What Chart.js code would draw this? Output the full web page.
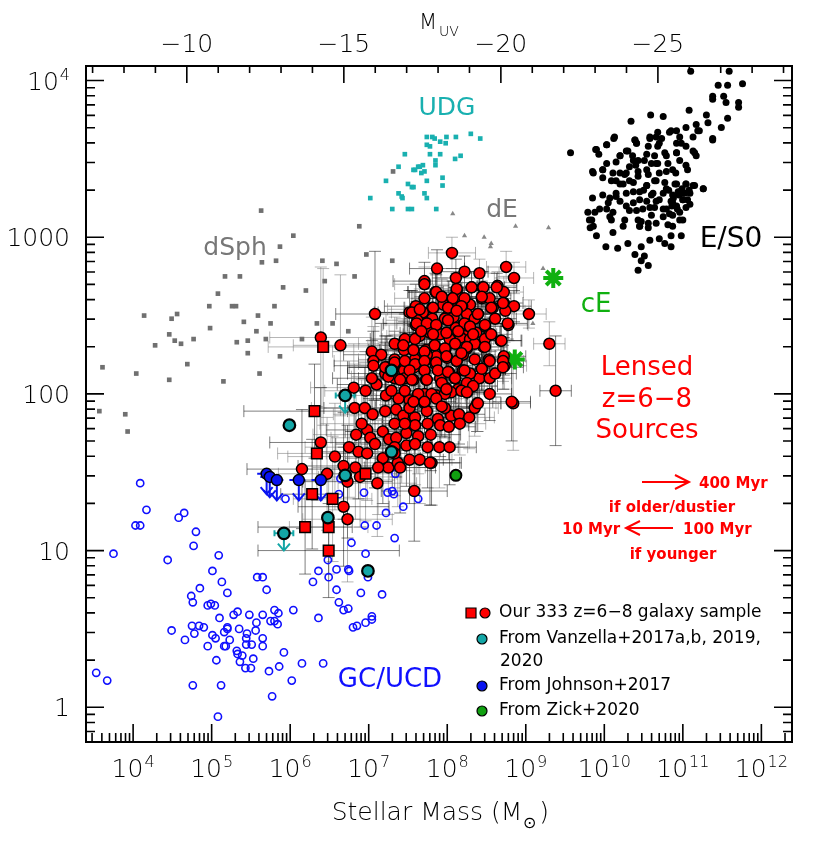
<!DOCTYPE html>
<html>
<head>
<meta charset="utf-8">
<script src="https://cdn.jsdelivr.net/npm/chart.js@4.4.0/dist/chart.umd.min.js"></script>
<style>
  html, body { margin: 0; padding: 0; background: #fff; }
  #wrap { width: 830px; height: 847px; }
</style>
</head>
<body>
<div id="wrap"><canvas id="chart" width="830" height="847"></canvas></div>
<script>
// all values are log10(M*/Msun), log10(Re/pc)

// E/S0 galaxies
const esoLog = [
  [11.10,4.06],[11.59,4.06],[11.45,3.97],[11.57,3.97],[11.76,3.98],[11.38,3.90],[11.52,3.90],[11.38,3.88],
  [11.55,3.86],[11.71,3.86],[11.71,3.83],[11.08,3.81],[11.30,3.78],[10.59,3.78],[10.75,3.77],[11.57,3.76],
  [10.34,3.74],[11.32,3.73],[11.17,3.72],[11.49,3.70],[11.04,3.70],[11.21,3.68],[10.85,3.68],[10.92,3.68],
  [10.66,3.64],[10.58,3.63],[10.12,3.63],[10.39,3.62],[10.73,3.63],[11.38,3.62],[11.13,3.64],[10.03,3.59],
  [10.41,3.60],[10.98,3.60],[10.68,3.58],[9.89,3.56],[9.57,3.54],[10.30,3.55],[9.93,3.53],[10.20,3.52],
  [10.54,3.53],[11.13,3.55],[11.17,3.52],[10.79,3.52],[10.92,3.54],[10.43,3.49],[10.15,3.48],[10.68,3.47],
  [11.04,3.46],[10.03,3.47],[10.32,3.45],[9.98,3.43],[9.85,3.42],[10.54,3.43],[10.79,3.42],[10.91,3.41],
  [10.20,3.41],[10.43,3.39],[10.09,3.36],[10.32,3.36],[10.66,3.36],[10.20,3.34],[10.54,3.33],[11.04,3.34],
  [11.13,3.33],[11.26,3.31],[10.79,3.31],[10.94,3.29],[10.37,3.29],[9.98,3.27],[10.15,3.26],[10.45,3.24],
  [9.85,3.25],[11.00,3.24],[10.66,3.23],[10.87,3.22],[10.05,3.22],[10.28,3.20],[10.58,3.19],[9.94,3.18],
  [10.75,3.18],[11.09,3.21],[10.96,3.16],[9.79,3.16],[10.11,3.16],[10.41,3.17],[10.83,3.15],[9.84,3.11],
  [10.07,3.13],[10.47,3.10],[10.66,3.09],[11.00,3.11],[10.45,3.07],[9.82,3.06],[10.56,3.06],[10.87,3.07],
  [10.11,3.03],[9.90,3.01],[10.85,3.01],[10.98,3.01],[10.70,2.99],[10.58,2.98],[10.85,2.94],[10.30,2.96],
  [10.77,2.96],[10.02,2.94],[10.17,2.93],[10.47,2.94],[10.39,2.89],[10.51,2.88],[10.47,2.85],[10.56,2.82],
  [10.43,2.79],
  [11.19,3.68],[11.38,3.63],[10.13,3.64],[10.03,3.59],[9.90,3.56],[10.39,3.62],[10.41,3.60],[10.58,3.64],
  [10.68,3.67],[10.83,3.67],[10.96,3.64],[10.92,3.60],[10.70,3.60],[10.56,3.58],[11.04,3.58],[11.15,3.54],
  [10.92,3.54],[10.77,3.54],[10.64,3.52],[10.28,3.55],[10.20,3.52],[10.37,3.49],[10.51,3.49],[10.66,3.47],
  [10.81,3.47],[10.96,3.49],[11.06,3.43],[10.87,3.43],[10.70,3.41],[10.56,3.40],[10.43,3.42],[10.28,3.41],
  [10.11,3.41],[9.98,3.43],[9.86,3.41],[9.98,3.38],[10.15,3.36],[10.24,3.34],[10.37,3.35],[10.54,3.33],
  [10.64,3.36],[10.77,3.35],[10.92,3.34],[11.04,3.34],[11.15,3.33],[11.26,3.31],[10.96,3.29],[11.09,3.28],
  [10.87,3.27],[10.75,3.28],[10.60,3.27],[10.45,3.29],[10.28,3.28],[10.15,3.28],[10.07,3.25],[10.20,3.23],
  [10.37,3.22],[10.54,3.23],[10.70,3.24],[10.85,3.23],[11.00,3.24],[10.92,3.20],[11.04,3.19],[10.79,3.18],
  [10.64,3.19],[10.49,3.18],[10.32,3.17],[10.03,3.18],[9.88,3.16],[9.81,3.11],[10.09,3.11],[10.26,3.11],
  [10.43,3.11],[10.60,3.14],[10.75,3.13],[10.87,3.14],[10.96,3.11],[10.81,3.08],[10.56,3.09],[10.45,3.07],
  [10.24,3.07],[9.86,3.07],
  [10.82,3.30],[10.88,3.25],[10.95,3.27],[11.02,3.28],[11.06,3.24],[10.99,3.31],[10.90,3.34],[11.08,3.30],
  [10.86,3.20],[10.93,3.18],[10.62,3.28],[10.50,3.30],[10.40,3.46],[10.26,3.40],[10.36,3.52],[10.60,3.47]
];

// ultra-diffuse galaxies
const udgLog = [
  [7.46,3.53],[7.38,3.45],[7.57,3.43],[7.22,3.36],[7.50,3.34],[7.55,3.32],[7.38,3.28],[7.43,3.25],
  [7.02,3.25],[7.30,3.18],[7.50,3.18],[7.55,3.18],[7.63,3.45],[7.74,3.64],[7.81,3.64],[7.84,3.63],
  [7.91,3.61],[7.99,3.64],[8.11,3.64],[8.30,3.66],[8.42,3.63],[7.74,3.59],[7.78,3.58],[7.98,3.60],
  [7.78,3.53],[7.91,3.53],[8.17,3.52],[8.10,3.50],[7.85,3.49],[7.85,3.46],[7.69,3.46],[7.65,3.45],
  [7.59,3.43],[7.67,3.41],[7.71,3.42],[7.94,3.38],[7.74,3.36],[7.57,3.32],[7.94,3.33],[7.71,3.28],
  [7.42,3.26],[7.74,3.25],[7.86,3.18]
];

// dwarf spheroidals
const dSphLog = [
  [7.31,3.42],[5.63,3.17],[6.88,3.07],[6.04,3.01],[5.87,2.94],[5.64,2.84],[5.82,2.85],[6.97,2.89],
  [6.41,2.85],[6.59,2.83],[7.30,2.85],[5.17,2.75],[5.36,2.75],[6.82,2.75],[6.44,2.72],[5.91,2.68],
  [6.20,2.66],[5.08,2.64],[4.97,2.56],[5.26,2.56],[5.31,2.56],[5.80,2.56],[4.14,2.50],[4.56,2.51],
  [4.49,2.48],[5.59,2.50],[5.41,2.46],[5.75,2.45],[4.98,2.42],[4.46,2.38],[5.57,2.40],[6.74,2.40],
  [4.77,2.35],[4.53,2.34],[4.61,2.32],[4.28,2.31],[5.32,2.33],[5.46,2.34],[5.69,2.35],[6.15,2.35],
  [5.46,2.26],[5.87,2.24],[4.69,2.19],[3.61,2.17],[4.04,2.13],[4.46,2.09],[5.15,2.08],[5.61,2.13],
  [3.57,1.89],[3.90,1.87],[3.93,1.76],[6.34,2.45],[6.54,2.45]
];

// dwarf ellipticals
const dELog = [
  [8.07,3.15],[8.22,3.01],[8.47,3.00],[8.56,2.96],[8.55,2.94],[8.87,3.07],[9.29,3.06],[9.22,2.80],[9.09,2.45]
];

// compact ellipticals
const cELog = [[9.35,2.74],[8.86,2.22]];

// globular clusters / ultra-compact dwarfs
const gcLog = [
  [4.09,1.43],[4.17,1.26],[4.03,1.16],[4.09,1.16],[4.58,1.21],[4.65,1.24],[4.80,1.12],[4.77,1.03],
  [3.75,0.98],[4.44,0.94],[5.09,0.97],[5.01,0.87],[5.13,0.80],[4.85,0.76],[4.74,0.71],[5.20,0.73],
  [5.58,0.83],[5.65,0.83],[5.70,0.75],[5.94,1.33],[6.62,1.36],[7.34,1.49],[6.94,1.37],[7.24,1.37],
  [7.30,1.38],[7.32,1.36],[7.44,1.28],[7.22,1.24],[6.95,1.16],[7.10,1.16],[7.33,1.08],[6.78,1.05],
  [6.96,0.98],[6.48,0.94],[6.36,0.87],[6.59,0.88],[6.49,0.83],[6.29,0.80],[6.74,0.88],[6.75,0.87],
  [6.99,0.83],[6.59,0.75],[6.90,0.73],[7.17,0.72],[6.64,1.46],[7.63,1.33],
  [4.76,0.67],[4.95,0.65],[4.99,0.66],[5.04,0.65],[5.28,0.59],[5.33,0.61],[5.10,0.57],[5.48,0.59],
  [5.65,0.59],[5.80,0.62],[5.85,0.60],[5.75,0.55],[5.80,0.55],[5.84,0.53],[6.04,0.62],[5.57,0.54],
  [5.56,0.49],[4.75,0.52],[4.78,0.47],[4.84,0.52],[4.90,0.51],[4.49,0.49],[4.66,0.43],[5.20,0.51],
  [5.20,0.50],[5.35,0.50],[5.16,0.48],[5.01,0.46],[5.05,0.44],[5.23,0.43],[5.45,0.47],[5.44,0.44],
  [5.44,0.40],[5.65,0.44],[5.65,0.39],[5.51,0.40],[5.16,0.39],[5.18,0.39],[4.95,0.39],[5.32,0.36],
  [5.33,0.34],[5.39,0.33],[5.36,0.29],[5.53,0.31],[5.06,0.30],[5.43,0.25],[5.50,0.25],[5.73,0.23],
  [5.86,0.26],[5.92,0.35],[6.15,0.28],[6.42,0.28],[6.36,0.57],[6.62,0.67],[6.68,0.62],[6.74,0.63],
  [6.80,0.51],[6.85,0.52],[6.96,0.54],[7.04,0.56],[7.04,0.58],[3.53,0.22],[3.67,0.17],[4.76,0.14],
  [5.12,0.14],[5.77,0.07],[6.02,0.17],[5.08,-0.06]
];

// our lensed z=6-8 sample: logM, logRe, err logM, err logRe
const ourCircles = [
  [8.06,2.90,0.30,0.10],[7.87,2.80,0.35,0.12],[8.75,2.81,0.25,0.10],[8.22,2.78,0.30,0.10],
  [8.41,2.77,0.25,0.09],[8.11,2.74,0.30,0.12],[8.85,2.74,0.25,0.10],[7.71,2.72,0.40,0.12],
  [8.31,2.68,0.30,0.10],[8.45,2.68,0.28,0.10],[8.64,2.69,0.25,0.09],[8.12,2.66,0.30,0.11],
  [8.72,2.65,0.25,0.10],[7.85,2.65,0.35,0.12],[7.93,2.62,0.35,0.12],[8.44,2.61,0.28,0.10],
  [8.07,2.61,0.30,0.11],[8.18,2.61,0.30,0.10],[8.72,2.58,0.25,0.10],[8.29,2.57,0.30,0.11],
  [8.58,2.55,0.28,0.10],[8.85,2.56,0.22,0.10],[9.04,2.51,0.22,0.09],[7.60,2.56,0.40,0.14],
  [7.81,2.55,0.35,0.12],[7.95,2.57,0.35,0.12],[8.10,2.54,0.30,0.11],[8.19,2.56,0.30,0.11],
  [7.69,2.52,0.40,0.13],[7.52,2.52,0.45,0.14],[8.25,2.51,0.30,0.11],[8.39,2.51,0.28,0.10],
  [8.74,2.53,0.25,0.10],[7.99,2.49,0.33,0.12],[8.08,2.49,0.32,0.12],[7.81,2.48,0.36,0.13],
  [7.62,2.47,0.40,0.14],[8.48,2.43,0.28,0.11],[8.78,2.44,0.25,0.10],[8.20,2.44,0.30,0.12],
  [7.74,2.45,0.38,0.13],[7.86,2.43,0.36,0.13],[7.60,2.44,0.42,0.14],[8.11,2.42,0.32,0.12],
  [7.99,2.39,0.34,0.13],[8.37,2.39,0.30,0.11],[8.54,2.38,0.28,0.11],[7.78,2.39,0.38,0.14],
  [8.22,2.37,0.30,0.12],[7.91,2.38,0.35,0.13],[8.17,2.36,0.32,0.12],[8.68,2.34,0.26,0.11],
  [7.65,2.37,0.42,0.15],[7.08,2.51,0.50,0.40],[9.30,2.32,0.20,0.14],[8.46,2.30,0.30,0.12],
  [8.25,2.29,0.30,0.13],[7.84,2.31,0.36,0.14],[7.98,2.29,0.34,0.13],[7.73,2.28,0.40,0.15],
  [7.57,2.28,0.42,0.16],[7.45,2.28,0.45,0.18],[7.04,2.27,0.50,0.22],[7.16,2.25,0.48,0.20],
  [6.64,2.31,0.60,0.45],[8.72,2.24,0.28,0.12],[8.53,2.22,0.30,0.13],[8.00,2.23,0.34,0.14],
  [8.20,2.25,0.32,0.13],[8.12,2.21,0.33,0.14],[7.86,2.24,0.36,0.15],[7.74,2.25,0.38,0.15],
  [7.06,2.21,0.50,0.22],[7.06,2.18,0.50,0.22],[8.73,2.18,0.28,0.15],[8.44,2.16,0.30,0.14],
  [8.20,2.15,0.33,0.15],[8.02,2.14,0.34,0.15],[7.85,2.19,0.37,0.15],[7.71,2.15,0.40,0.16],
  [7.58,2.17,0.42,0.17],[7.45,2.15,0.45,0.18],[7.33,2.19,0.46,0.18],[7.23,2.17,0.48,0.20],
  [7.57,2.09,0.42,0.18],[7.73,2.09,0.40,0.17],[7.98,2.04,0.35,0.17],[8.14,2.03,0.33,0.16],
  [8.25,2.01,0.32,0.16],[8.32,2.05,0.32,0.16],[7.86,1.99,0.37,0.18],[7.65,1.97,0.40,0.19],
  [7.52,1.96,0.43,0.20],[7.38,1.97,0.45,0.20],[7.22,1.99,0.48,0.22],[7.10,2.06,0.50,0.22],
  [6.96,2.02,0.52,0.25],[7.04,2.10,0.50,0.24],[6.81,2.04,0.55,0.28],[8.38,1.94,0.30,0.18],
  [8.84,1.94,0.22,0.30],[9.38,2.02,0.20,0.35],[7.71,1.94,0.40,0.20],[8.05,2.01,0.34,0.17],
  [6.82,1.91,0.55,0.28],[6.95,1.91,0.52,0.26],[7.05,1.87,0.50,0.25],[7.21,1.89,0.48,0.24],
  [7.35,1.90,0.46,0.22],[7.44,1.86,0.45,0.22],[7.59,1.85,0.42,0.21],[7.74,1.89,0.40,0.20],
  [7.88,1.84,0.37,0.20],[7.91,1.80,0.36,0.20],[8.05,1.86,0.34,0.19],[8.15,1.87,0.33,0.19],
  [8.28,1.85,0.32,0.20],[8.02,1.79,0.34,0.21],[6.84,1.74,0.55,0.30],[6.98,1.77,0.52,0.28],
  [7.02,1.72,0.50,0.28],[7.18,1.76,0.48,0.26],[7.26,1.71,0.47,0.26],[7.35,1.72,0.46,0.25],
  [7.48,1.75,0.44,0.24],[7.59,1.80,0.42,0.22],[7.63,1.73,0.42,0.24],[7.79,1.74,0.38,0.23],
  [6.75,1.66,0.56,0.32],[6.87,1.63,0.54,0.30],[6.98,1.62,0.52,0.30],[7.18,1.59,0.48,0.29],
  [7.25,1.53,0.47,0.30],[7.48,1.67,0.44,0.26],[7.59,1.68,0.42,0.26],[7.52,1.58,0.43,0.28],
  [7.65,1.58,0.41,0.28],[7.75,1.66,0.39,0.26],[7.90,1.66,0.36,0.26],[6.39,1.69,0.65,0.35],
  [6.57,1.60,0.60,0.34],[6.68,1.54,0.58,0.34],[6.83,1.53,0.55,0.33],[6.15,1.52,0.70,0.38],
  [6.47,1.49,0.62,0.36],[6.73,1.44,0.57,0.36],[7.11,1.43,0.50,0.34],[6.68,1.28,0.58,0.38],
  [6.73,1.20,0.57,0.40],[7.58,1.38,0.42,0.32],[6.39,2.36,0.65,0.45],
  [7.46,2.35,0.44,0.16],[7.59,2.35,0.42,0.15],[8.03,2.35,0.34,0.13],[8.29,2.35,0.30,0.12],
  [8.48,2.35,0.28,0.12],[7.33,2.32,0.46,0.17],[8.10,2.32,0.33,0.13],[8.35,2.32,0.30,0.12],
  [7.33,2.10,0.46,0.19],[7.46,2.10,0.44,0.19],[7.91,2.10,0.36,0.17],[8.10,2.10,0.33,0.16],
  [8.41,2.10,0.30,0.15],[8.54,2.10,0.28,0.15],[7.71,2.00,0.40,0.19],[7.97,2.00,0.35,0.18],
  [8.54,2.00,0.28,0.17],[7.52,1.91,0.43,0.21],[7.97,1.91,0.35,0.19],[8.35,1.91,0.30,0.18],
  [7.33,1.81,0.46,0.23],[7.46,1.81,0.44,0.22],[7.75,1.81,0.39,0.21],[8.16,1.81,0.33,0.20],
  [7.21,2.13,0.48,0.20],[8.29,2.13,0.31,0.15],[8.61,2.13,0.27,0.15],[7.33,2.22,0.46,0.18],
  [7.59,2.22,0.42,0.17],[8.35,2.22,0.31,0.14],[7.97,2.48,0.34,0.12],[8.35,2.48,0.30,0.11],
  [8.61,2.48,0.27,0.11],[7.71,2.61,0.38,0.12],[8.54,2.61,0.27,0.10],[7.33,1.66,0.46,0.26],
  [8.03,1.66,0.34,0.24],[7.37,1.56,0.45,0.28],[7.80,1.56,0.38,0.27],
  [7.71,2.70,0.38,0.11],[7.86,2.65,0.36,0.11],[8.12,2.67,0.31,0.10],[8.31,2.68,0.29,0.10],
  [8.46,2.68,0.27,0.10],[8.63,2.68,0.25,0.09],[7.93,2.62,0.35,0.11],[8.07,2.61,0.32,0.11],
  [8.22,2.61,0.30,0.10],[8.44,2.62,0.28,0.10],[8.71,2.58,0.25,0.10],[7.55,2.52,0.43,0.14],
  [7.65,2.54,0.41,0.13],[7.82,2.55,0.37,0.12],[8.01,2.55,0.33,0.12],[8.18,2.56,0.31,0.11],
  [8.12,2.53,0.31,0.11],[8.39,2.51,0.29,0.11],[8.56,2.55,0.27,0.10],[7.61,2.45,0.42,0.14],
  [7.74,2.45,0.39,0.13],[7.86,2.44,0.37,0.13],[8.01,2.47,0.34,0.12],[8.22,2.45,0.31,0.12],
  [8.48,2.44,0.28,0.11],[8.77,2.45,0.25,0.10],[7.67,2.40,0.41,0.14],[7.82,2.38,0.38,0.14],
  [7.99,2.39,0.35,0.13],[8.14,2.40,0.32,0.12],[8.29,2.43,0.30,0.12],[8.33,2.38,0.30,0.12],
  [8.56,2.38,0.27,0.11],[8.69,2.34,0.26,0.11],[7.44,2.31,0.45,0.17],[7.57,2.28,0.43,0.16],
  [7.71,2.27,0.40,0.15],[7.84,2.31,0.37,0.14],[7.97,2.29,0.35,0.14],[8.12,2.21,0.33,0.14],
  [8.25,2.30,0.31,0.13],[8.18,2.26,0.32,0.13],[8.48,2.30,0.29,0.12],[8.54,2.21,0.28,0.13],
  [8.71,2.21,0.26,0.13],[8.71,2.17,0.26,0.14],[7.33,2.20,0.46,0.18],[7.46,2.21,0.44,0.18],
  [7.59,2.19,0.42,0.17],[7.71,2.21,0.40,0.16],[7.86,2.20,0.37,0.16],[7.99,2.24,0.35,0.15],
  [7.52,2.15,0.43,0.18],[7.71,2.15,0.40,0.17],[7.88,2.15,0.37,0.16],[8.01,2.14,0.35,0.16],
  [8.22,2.15,0.32,0.15],[8.44,2.16,0.30,0.14],[7.40,2.09,0.45,0.20],[7.55,2.09,0.43,0.19],
  [7.74,2.09,0.39,0.18],[7.93,2.07,0.36,0.17],[8.10,2.10,0.33,0.16],[8.25,2.07,0.32,0.16],
  [8.33,2.05,0.31,0.16],[7.29,2.02,0.46,0.21],[7.46,2.02,0.44,0.20],[7.63,2.00,0.42,0.19],
  [7.80,2.00,0.38,0.19],[7.99,2.03,0.35,0.18],[8.18,2.02,0.33,0.17],[8.25,2.01,0.32,0.17],
  [7.57,1.95,0.42,0.20],[7.71,1.95,0.40,0.20],[7.86,1.97,0.37,0.19],[7.93,1.92,0.36,0.19],
  [8.39,1.94,0.30,0.18],[8.82,1.95,0.24,0.25],[7.25,2.11,0.47,0.20],[7.21,2.17,0.48,0.20],
  [6.91,1.81,0.53,0.28],[7.08,1.68,0.50,0.28],[7.33,1.62,0.46,0.27],[7.40,1.53,0.45,0.29],
  [7.12,1.53,0.49,0.30],[7.78,1.56,0.38,0.27],[6.89,1.47,0.53,0.32]
];
const ourSquares = [
  [6.42,2.30,0.70,0.50],[6.31,1.89,0.90,0.30],[6.34,1.62,0.50,0.30],[6.28,1.36,0.40,0.35],
  [6.54,1.33,0.50,0.40],[6.19,1.15,0.60,0.30],[6.49,1.15,0.50,0.30],[6.49,1.00,0.90,0.30],
  [6.96,1.49,0.40,0.30]
];

// literature lensed sources
const vanzellaLog = [[5.99,1.80],[6.70,1.99],[7.29,2.15],[7.29,1.63],[6.70,1.48],[6.48,1.21],[5.92,1.11],[6.99,0.87]];
const vanzellaUpper = [1, 6];
const johnsonLog = [[5.70,1.49],[5.74,1.47],[5.83,1.45],[6.11,1.45],[6.39,1.45]];
const zickLog = [[8.11,1.48]];

// axes
const massRange = [3.40, 12.39];
const sizeRange = [-0.203, 4.093];
const muvRange = [-29.27, -6.79];
const massTickExp = [4, 5, 6, 7, 8, 9, 10, 11, 12];
const sizeTickExp = [0, 1, 2, 3, 4];
const muvTicks = [-10, -15, -20, -25];

const FONT = '"DejaVu Sans", sans-serif';
const toPts = arr => arr.map(p => ({ x: 10 ** p[0], y: 10 ** p[1] }));

function errorBars(chart, rows) {
  const { ctx, scales: { x, y } } = chart;
  const cap = 6;
  rows.forEach((p, i) => {
    const px = x.getPixelForValue(10 ** p[0]);
    const py = y.getPixelForValue(10 ** p[1]);
    const x0 = x.getPixelForValue(10 ** (p[0] - p[2]));
    const x1 = x.getPixelForValue(10 ** (p[0] + p[2]));
    const y0 = y.getPixelForValue(10 ** (p[1] - p[3]));
    const y1 = y.getPixelForValue(10 ** (p[1] + p[3]));
    ctx.strokeStyle = i % 2 ? 'rgba(0,0,0,0.5)' : 'rgba(110,110,110,0.5)';
    ctx.beginPath();
    ctx.moveTo(x0, py); ctx.lineTo(x1, py);
    ctx.moveTo(px, y0); ctx.lineTo(px, y1);
    ctx.moveTo(x0, py - cap); ctx.lineTo(x0, py + cap);
    ctx.moveTo(x1, py - cap); ctx.lineTo(x1, py + cap);
    ctx.moveTo(px - cap, y0); ctx.lineTo(px + cap, y0);
    ctx.moveTo(px - cap, y1); ctx.lineTo(px + cap, y1);
    ctx.stroke();
  });
}

function downArrow(ctx, px, py, len, color) {
  ctx.strokeStyle = color;
  ctx.lineWidth = 2;
  ctx.beginPath();
  ctx.moveTo(px, py); ctx.lineTo(px, py + len);
  ctx.moveTo(px - 6, py + len - 7); ctx.lineTo(px, py + len); ctx.lineTo(px + 6, py + len - 7);
  ctx.stroke();
}

function hArrow(ctx, xa, xb, py) {
  const dir = Math.sign(xb - xa);
  ctx.beginPath();
  ctx.moveTo(xa, py); ctx.lineTo(xb, py);
  ctx.moveTo(xb - dir * 14, py - 7); ctx.lineTo(xb, py); ctx.lineTo(xb - dir * 14, py + 7);
  ctx.stroke();
}

// "10" with a raised exponent; align: 'center' or 'right'
function powLabel(ctx, exp, px, baseline, align) {
  ctx.font = '300 25px ' + FONT;
  const w1 = ctx.measureText('10').width;
  ctx.font = '300 16px ' + FONT;
  const w2 = ctx.measureText(String(exp)).width;
  const total = w1 + w2 + 1;
  const start = align === 'right' ? px - total : px - total / 2;
  ctx.textAlign = 'left';
  ctx.font = '300 25px ' + FONT;
  ctx.fillText('10', start, baseline);
  ctx.font = '300 16px ' + FONT;
  ctx.fillText(String(exp), start + w1 + 1, baseline - 10);
}

const extrasPlugin = {
  id: 'extras',
  beforeDatasetsDraw(chart) {
    const { ctx, chartArea: a, scales: { x, y } } = chart;
    ctx.save();
    ctx.beginPath();
    ctx.rect(a.left, a.top, a.right - a.left, a.bottom - a.top);
    ctx.clip();
    ctx.lineWidth = 1;
    errorBars(chart, ourSquares);
    errorBars(chart, ourCircles);

    // Johnson+2017: dashed mass bars, upper limits on size
    ctx.strokeStyle = '#0a14f0';
    ctx.lineWidth = 2;
    ctx.setLineDash([6, 4]);
    johnsonLog.forEach(p => {
      const py = y.getPixelForValue(10 ** p[1]);
      ctx.beginPath();
      ctx.moveTo(x.getPixelForValue(10 ** (p[0] - 0.12)), py);
      ctx.lineTo(x.getPixelForValue(10 ** (p[0] + 0.12)), py);
      ctx.stroke();
    });
    ctx.setLineDash([]);
    johnsonLog.forEach(p => {
      const px = x.getPixelForValue(10 ** p[0]);
      const py = y.getPixelForValue(10 ** p[1]);
      downArrow(ctx, px, py, y.getPixelForValue(10 ** (p[1] - 0.13)) - py, '#0a14f0');
    });

    // Vanzella upper limits
    vanzellaUpper.forEach(i => {
      const p = vanzellaLog[i];
      const px = x.getPixelForValue(10 ** p[0]);
      const py = y.getPixelForValue(10 ** p[1]);
      ctx.strokeStyle = '#13a6a6';
      ctx.lineWidth = 2;
      ctx.beginPath();
      const xl = x.getPixelForValue(10 ** (p[0] - 0.12));
      const xr = x.getPixelForValue(10 ** (p[0] + 0.12));
      ctx.moveTo(xl, py); ctx.lineTo(xr, py);
      ctx.moveTo(xl, py - 3); ctx.lineTo(xl, py + 3);
      ctx.moveTo(xr, py - 3); ctx.lineTo(xr, py + 3);
      ctx.stroke();
      downArrow(ctx, px, py, y.getPixelForValue(10 ** (p[1] - 0.11)) - py, '#13a6a6');
    });
    ctx.restore();
  },
  afterDraw(chart) {
    const { ctx, chartArea: a, scales: { x, y, top } } = chart;
    ctx.save();
    ctx.strokeStyle = '#000';
    ctx.lineWidth = 2;
    ctx.strokeRect(a.left, a.top, a.right - a.left, a.bottom - a.top);

    // ticks, drawn inward
    ctx.lineWidth = 1.6;
    ctx.beginPath();
    for (let d = 3; d <= 12; d++) {
      for (let m = 1; m <= 9; m++) {
        const v = m * 10 ** d;
        if (v < x.min || v > x.max) continue;
        const px = x.getPixelForValue(v);
        ctx.moveTo(px, a.bottom);
        ctx.lineTo(px, a.bottom - (m === 1 ? 18 : 9));
      }
    }
    for (let d = -1; d <= 4; d++) {
      for (let m = 1; m <= 9; m++) {
        const v = m * 10 ** d;
        if (v < y.min || v > y.max) continue;
        const py = y.getPixelForValue(v);
        const len = m === 1 ? 18 : 9;
        ctx.moveTo(a.left, py); ctx.lineTo(a.left + len, py);
        ctx.moveTo(a.right, py); ctx.lineTo(a.right - len, py);
      }
    }
    for (let mu = Math.ceil(muvRange[0]); mu <= Math.floor(muvRange[1]); mu++) {
      const px = top.getPixelForValue(mu);
      ctx.moveTo(px, a.top);
      ctx.lineTo(px, a.top + (mu % 5 === 0 ? 17 : 7));
    }
    ctx.stroke();

    // tick labels
    ctx.fillStyle = '#000';
    ctx.textBaseline = 'alphabetic';
    massTickExp.forEach(e => powLabel(ctx, e, x.getPixelForValue(10 ** e), 777, 'center'));
    sizeTickExp.forEach(e => {
      const py = y.getPixelForValue(10 ** e) + 9;
      if (e < 4) {
        ctx.font = '300 25px ' + FONT;
        ctx.textAlign = 'right';
        ctx.fillText(String(10 ** e), 70, py);
      } else {
        powLabel(ctx, e, 70, py, 'right');
      }
    });
    ctx.font = '300 25px ' + FONT;
    ctx.textAlign = 'center';
    muvTicks.forEach(t => ctx.fillText('\u2212' + Math.abs(t), top.getPixelForValue(t), 52));

    // axis titles
    ctx.textAlign = 'left';
    ctx.font = '300 21px ' + FONT;
    ctx.fillText('M', 419, 29);
    ctx.font = '300 14px ' + FONT;
    ctx.fillText('UV', 439, 36);
    ctx.font = '300 25px ' + FONT;
    const t1 = 'Stellar Mass (M';
    const w1 = ctx.measureText(t1).width;
    const x0 = 440 - (w1 + 26) / 2;
    ctx.fillText(t1, x0, 820);
    ctx.font = '300 16px ' + FONT;
    ctx.fillText('\u2299', x0 + w1 + 1, 828);
    ctx.font = '300 25px ' + FONT;
    ctx.fillText(')', x0 + w1 + 17, 820);

    // population labels
    ctx.textAlign = 'center';
    const lab = (t, cx, cy, c, size) => {
      ctx.font = size + 'px ' + FONT;
      ctx.fillStyle = c;
      ctx.fillText(t, cx, cy);
    };
    lab('UDG', 447, 115, '#19b0b0', 25);
    lab('dE', 502, 217, '#777', 25);
    lab('dSph', 235, 255, '#777', 25);
    lab('E/S0', 731, 247, '#000', 28);
    lab('cE', 596, 312, '#10b010', 26);
    lab('GC/UCD', 390, 687, '#1010ff', 26);
    lab('Lensed', 647, 375, '#ff0000', 26);
    lab('z=6\u22128', 647, 407, '#ff0000', 26);
    lab('Sources', 647, 438, '#ff0000', 26);

    // age annotation
    ctx.fillStyle = '#ff0000';
    ctx.strokeStyle = '#ff0000';
    ctx.lineWidth = 2;
    ctx.font = 'bold 15px ' + FONT;
    ctx.textAlign = 'left';
    hArrow(ctx, 642, 689, 482);
    ctx.fillText('400 Myr', 699, 488);
    ctx.textAlign = 'center';
    ctx.fillText('if older/dustier', 672, 512);
    hArrow(ctx, 673, 626, 528);
    ctx.textAlign = 'left';
    ctx.fillText('10 Myr', 562, 534);
    ctx.fillText('100 Myr', 683, 534);
    ctx.textAlign = 'center';
    ctx.fillText('if younger', 673, 559);

    // legend
    const mark = (cx, cy, fill, shape) => {
      ctx.fillStyle = fill;
      ctx.strokeStyle = '#000';
      ctx.lineWidth = 1.2;
      ctx.beginPath();
      if (shape === 'rect') ctx.rect(cx - 5, cy - 5, 10, 10);
      else ctx.arc(cx, cy, 5, 0, Math.PI * 2);
      ctx.fill();
      ctx.stroke();
    };
    mark(471, 613, '#ff0000', 'rect');
    mark(485, 613, '#ff0000');
    mark(482, 639, '#13a6a6');
    mark(482, 686, '#0a14f0');
    mark(482, 711, '#10a010');
    ctx.fillStyle = '#000';
    ctx.font = '17px ' + FONT;
    ctx.textAlign = 'left';
    ctx.textBaseline = 'middle';
    ctx.fillText('Our 333 z=6\u22128 galaxy sample', 499, 613);
    ctx.fillText('From Vanzella+2017a,b, 2019,', 499, 639);
    ctx.fillText('2020', 500, 662);
    ctx.fillText('From Johnson+2017', 499, 686);
    ctx.fillText('From Zick+2020', 499, 711);
    ctx.restore();
  }
};

new Chart(document.getElementById('chart'), {
  type: 'scatter',
  data: {
    datasets: [
      { label: 'Zick+2020', data: toPts(zickLog), pointStyle: 'circle', pointRadius: 5.5,
        backgroundColor: '#10a010', borderColor: '#000', borderWidth: 2 },
      { label: 'Johnson+2017', data: toPts(johnsonLog), pointStyle: 'circle', pointRadius: 5.5,
        backgroundColor: '#0a14f0', borderColor: '#000', borderWidth: 1.5 },
      { label: 'Vanzella', data: toPts(vanzellaLog), pointStyle: 'circle', pointRadius: 5.8,
        backgroundColor: '#13a6a6', borderColor: '#000', borderWidth: 2.2 },
      { label: 'Our sample', data: toPts(ourSquares), pointStyle: 'rect', pointRadius: 7.5,
        backgroundColor: '#ff0000', borderColor: '#000', borderWidth: 1.5 },
      { label: 'Our sample circles', data: toPts(ourCircles), pointStyle: 'circle', pointRadius: 5.5,
        backgroundColor: '#ff0000', borderColor: '#000', borderWidth: 1.5 },
      { label: 'cE', data: toPts(cELog), pointStyle: 'star', pointRadius: 10,
        backgroundColor: '#10b010', borderColor: '#10b010', borderWidth: 4 },
      { label: 'E/S0', data: toPts(esoLog), pointStyle: 'circle', pointRadius: 3.5,
        backgroundColor: '#000', borderWidth: 0 },
      { label: 'UDG', data: toPts(udgLog), pointStyle: 'rect', pointRadius: 3.3,
        backgroundColor: '#19b0b0', borderWidth: 0 },
      { label: 'dE', data: toPts(dELog), pointStyle: 'triangle', pointRadius: 3,
        backgroundColor: '#888', borderWidth: 0 },
      { label: 'dSph', data: toPts(dSphLog), pointStyle: 'rect', pointRadius: 3.3,
        backgroundColor: '#707070', borderWidth: 0 },
      { label: 'GC/UCD', data: toPts(gcLog), pointStyle: 'circle', pointRadius: 3.6,
        backgroundColor: 'rgba(0,0,0,0)', borderColor: '#1010ff', borderWidth: 1.6 }
    ]
  },
  options: {
    responsive: false,
    devicePixelRatio: 1,
    animation: false,
    events: [],
    layout: { padding: { left: 86, right: 38, top: 66, bottom: 105 } },
    scales: {
      x: { type: 'logarithmic', display: false, min: 10 ** massRange[0], max: 10 ** massRange[1] },
      y: { type: 'logarithmic', display: false, min: 10 ** sizeRange[0], max: 10 ** sizeRange[1] },
      top: { type: 'linear', position: 'top', display: false, reverse: true,
             min: muvRange[0], max: muvRange[1] }
    },
    plugins: { legend: { display: false }, tooltip: { enabled: false } }
  },
  plugins: [extrasPlugin]
});
</script>
</body>
</html>
